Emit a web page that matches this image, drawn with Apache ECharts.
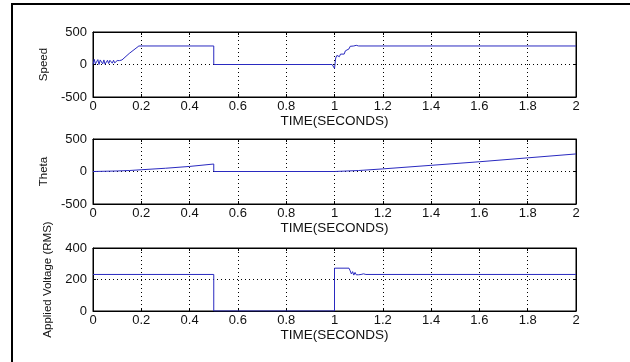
<!DOCTYPE html>
<html>
<head>
<meta charset="utf-8">
<script src="https://cdn.jsdelivr.net/npm/echarts@6/dist/echarts.min.js"></script>
<style>html,body{margin:0;padding:0;background:#fff}#c{width:630px;height:362px}</style>
</head>
<body>
<div id="c"></div>
<script>
// ---- data ----
var xTicks = [0, 0.2, 0.4, 0.6, 0.8, 1, 1.2, 1.4, 1.6, 1.8, 2];
var speedT = [0, 0.005, 0.01, 0.02, 0.025, 0.03, 0.04, 0.045, 0.05, 0.06, 0.065, 0.07, 0.08, 0.085, 0.09, 0.1, 0.105, 0.11, 0.12, 0.15, 0.19, 0.5, 0.5, 0.99, 1.0, 1.005, 1.01, 1.02, 1.025, 1.03, 1.04, 1.045, 1.05, 1.06, 1.065, 1.07, 1.08, 1.09, 1.1, 2.0];
var speedV = [0, 80, 10, 75, 0, 70, 10, 70, 5, 65, 15, 65, 20, 65, 25, 60, 35, 60, 70, 170, 285, 285, 0, 0, -60, 100, 140, 120, 160, 175, 160, 210, 200, 240, 280, 300, 285, 295, 285, 285];
var thetaT = [0, 0.1, 0.15, 0.2, 0.3, 0.4, 0.5, 0.5, 1.0, 1.1, 1.2, 1.4, 1.6, 1.8, 2.0];
var thetaV = [0, 8, 15, 27, 50, 78, 115, 0, 0, 15, 40, 95, 150, 210, 270];
var voltT = [0, 0.5, 0.5, 1.0, 1.0, 1.06, 1.065, 1.07, 1.075, 1.08, 1.085, 1.09, 1.095, 1.1, 1.105, 1.11, 1.12, 1.13, 2.0];
var voltV = [232, 232, 0, 0, 272, 272, 255, 235, 250, 228, 245, 230, 240, 230, 238, 232, 236, 232, 232];
var yLabels = ['Speed', 'Theta', 'Applied Voltage (RMS)'];
var yRanges = [[-500, 500, 500], [-500, 500, 500], [0, 400, 200]];
var xName = 'TIME(SECONDS)';

function pairs(t, v) { return t.map(function (x, i) { return [x, v[i]]; }); }
var seriesData = [pairs(speedT, speedV), pairs(thetaT, thetaV), pairs(voltT, voltV)];

var FONT = 'Liberation Sans, Arial, sans-serif';
var tops = [32, 139, 248];
var heights = [65, 65, 63];
var nameGaps = [43, 43, 39];
var grids = [], xAxes = [], yAxes = [], series = [];
for (var i = 0; i < 3; i++) {
  grids.push({left: 93, width: 483, top: tops[i], height: heights[i], show: true, borderColor: '#000', borderWidth: 1, backgroundColor: '#fff'});
  var gridLine = {show: true, lineStyle: {color: '#000', type: [1, 3], width: 1}};
  xAxes.push({type: 'value', gridIndex: i, min: 0, max: 2, interval: 0.2, position: 'bottom',
    name: xName, nameLocation: 'middle', nameGap: 17,
    nameTextStyle: {fontFamily: FONT, fontSize: 13.5, color: '#111'},
    axisLine: {show: true, onZero: false, lineStyle: {color: '#000'}},
    axisTick: {show: true, inside: true, length: 3, lineStyle: {color: '#000'}},
    axisLabel: {fontFamily: FONT, fontSize: 13, color: '#111', margin: 3, formatter: function (v) { return String(Math.round(v * 10) / 10); }},
    splitLine: gridLine});
  xAxes.push({type: 'value', gridIndex: i, min: 0, max: 2, interval: 0.2, position: 'top',
    axisLine: {show: true, onZero: false, lineStyle: {color: '#000'}},
    axisTick: {show: true, inside: true, length: 3, lineStyle: {color: '#000'}},
    axisLabel: {show: false}, splitLine: {show: false}});
  var r = yRanges[i];
  yAxes.push({type: 'value', gridIndex: i, min: r[0], max: r[1], interval: r[2], position: 'left',
    name: yLabels[i], nameLocation: 'middle', nameGap: nameGaps[i], nameRotate: 90,
    nameTextStyle: {fontFamily: FONT, fontSize: 11.5, color: '#111'},
    axisLine: {show: true, onZero: false, lineStyle: {color: '#000'}},
    axisTick: {show: true, inside: true, length: 3, lineStyle: {color: '#000'}},
    axisLabel: {fontFamily: FONT, fontSize: 13, color: '#111', margin: 6},
    splitLine: gridLine});
  yAxes.push({type: 'value', gridIndex: i, min: r[0], max: r[1], interval: r[2], position: 'right',
    axisLine: {show: true, onZero: false, lineStyle: {color: '#000'}},
    axisTick: {show: true, inside: true, length: 3, lineStyle: {color: '#000'}},
    axisLabel: {show: false}, splitLine: {show: false}});
  series.push({type: 'line', xAxisIndex: i * 2, yAxisIndex: i * 2, data: seriesData[i],
    showSymbol: false, symbol: 'none', animation: false, z: 5,
    lineStyle: {color: '#2a2ac0', width: 1}});
}

var chart = echarts.init(document.getElementById('c'), null, {renderer: 'canvas'});
chart.setOption({
  animation: false,
  backgroundColor: '#fff',
  graphic: [{type: 'rect', shape: {x: 12, y: 4, width: 700, height: 500}, style: {fill: 'none', stroke: '#000', lineWidth: 2}, silent: true, z: -1}],
  grid: grids, xAxis: xAxes, yAxis: yAxes, series: series
});
</script>
</body>
</html>
